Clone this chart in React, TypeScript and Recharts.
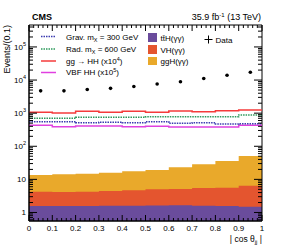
import React from "react";
import {
  ComposedChart,
  Area,
  Line,
  XAxis,
  YAxis,
  ReferenceArea,
} from "recharts";

// bin edges of |cos theta_jj| (10 bins of 0.1)
const binEdges = [0, 0.1, 0.2, 0.3, 0.4, 0.5, 0.6, 0.7, 0.8, 0.9, 1.0];

// single Higgs backgrounds (stacked)
const ttH = [1.57, 1.57, 1.57, 1.6, 1.6, 1.63, 1.65, 1.6, 1.57, 1.5];
const vh = [2.68, 2.59, 2.68, 2.86, 3.09, 3.39, 3.48, 3.9, 4.04, 4.95];
const ggh = [9.35, 10.14, 10.65, 11.44, 12.91, 14.18, 18.07, 23.1, 30.39, 44.55];

// signal hypotheses
const grav300 = [553, 553, 516, 535, 516, 553, 492, 516, 472, 482];
const rad600 = [696, 696, 747, 747, 747, 784, 784, 784, 784, 882];
const ggHH = [1057, 1014, 1134, 1057, 1134, 1057, 1166, 1110, 1190, 1249];
const vbfHH = [428, 391, 410, 410, 391, 405, 383, 383, 383, 433];

// observed data
const observed = [4720, 4720, 5165, 5610, 6370, 7565, 8890, 11100, 13970, 17200];

const yMin = 0.553;
const yMax = 4.6e5;

const xTicks = Array.from({ length: 51 }, (_, i) => i / 50);
const yTicks: number[] = [0.6, 0.7, 0.8, 0.9];
for (let e = 0; e <= 5; e++) {
  for (let m = 1; m <= 9; m++) {
    const v = m * Math.pow(10, e);
    if (v <= yMax) yTicks.push(v);
  }
}

// rows at bin edges and bin centres so the step lines and the points share one table
const rows: any[] = [];
binEdges.forEach((edge, i) => {
  const b = Math.min(i, 9);
  const hist = {
    ttH: ttH[b],
    vh: ttH[b] + vh[b],
    ggh: ttH[b] + vh[b] + ggh[b],
    grav: grav300[b],
    rad: rad600[b],
    gghh: ggHH[b],
    vbf: vbfHH[b],
  };
  rows.push({ x: edge, ...hist, data: null });
  if (i < 10) {
    rows.push({ x: (edge + binEdges[i + 1]) / 2, ...hist, data: observed[i] });
  }
});

const FONT = "'Liberation Sans', Arial, Helvetica, sans-serif";
const PLOT_TOP = 25;
const PLOT_RIGHT = 262;
const COLORS = {
  ttH: "#6a4c9c",
  vh: "#e4552f",
  ggh: "#e9a92b",
  grav: "#3b3bb0",
  rad: "#2e9a5c",
  gghh: "#f53b3b",
  vbf: "#e040e0",
};

const XTick = (props: any) => {
  const { x, y, payload } = props;
  const v = payload.value;
  const major = Math.abs(v * 10 - Math.round(v * 10)) < 1e-6;
  const len = major ? 6 : 3;
  const label = v === 0 ? "0" : v === 1 ? "1" : v.toFixed(1);
  return (
    <g>
      <line x1={x} y1={y} x2={x} y2={y - len} stroke="#000" />
      <line x1={x} y1={PLOT_TOP} x2={x} y2={PLOT_TOP + len} stroke="#000" />
      {major && (
        <text x={x} y={y + 9.5} textAnchor="middle" fontSize={8} fontFamily={FONT} fill="#000">
          {label}
        </text>
      )}
    </g>
  );
};

const YTick = (props: any) => {
  const { x, y, payload } = props;
  const v = payload.value;
  const lg = Math.log10(v);
  const major = Math.abs(lg - Math.round(lg)) < 1e-6;
  const len = major ? 8 : 4;
  const e = Math.round(lg);
  return (
    <g>
      <line x1={x} y1={y} x2={x + len} y2={y} stroke="#000" />
      <line x1={PLOT_RIGHT - len} y1={y} x2={PLOT_RIGHT} y2={y} stroke="#000" />
      {major && (
        <text
          x={e >= 2 ? x - 6 : x - 3}
          y={y + 3}
          textAnchor="end"
          fontSize={8}
          fontFamily={FONT}
          fill="#000"
        >
          {e === 0 ? "1" : "10"}
        </text>
      )}
      {major && e >= 2 && (
        <text x={x - 6} y={y - 1} fontSize={5.5} fontFamily={FONT} fill="#000">
          {e}
        </text>
      )}
    </g>
  );
};

const Overlay = () => (
  <svg
    width={291}
    height={246}
    style={{ position: "absolute", left: 0, top: 0, pointerEvents: "none" }}
    fontFamily={FONT}
  >
    <text x={32} y={20} fontSize={9} fontWeight="bold">
      CMS
    </text>
    <text x={261} y={20} fontSize={9} textAnchor="end">
      35.9 fb
      <tspan fontSize={6} dy={-3.5}>-1</tspan>
      <tspan dy={3.5}> (13 TeV)</tspan>
    </text>

    {/* signal legend */}
    <line x1={41} y1={36.5} x2={56} y2={36.5} stroke={COLORS.grav} strokeWidth={1.5} strokeDasharray="1.5 1" />
    <text x={66} y={39.5} fontSize={8}>
      Grav. m<tspan fontSize={5.5} dy={2}>X</tspan>
      <tspan dy={-2}> = 300 GeV</tspan>
    </text>
    <line x1={41} y1={49} x2={56} y2={49} stroke={COLORS.rad} strokeWidth={1.5} strokeDasharray="1.5 1" />
    <text x={66} y={52} fontSize={8}>
      Rad. m<tspan fontSize={5.5} dy={2}>X</tspan>
      <tspan dy={-2}> = 600 GeV</tspan>
    </text>
    <line x1={41} y1={61} x2={56} y2={61} stroke={COLORS.gghh} strokeWidth={1.5} />
    <text x={66} y={63.5} fontSize={8}>
      gg → HH (x10<tspan fontSize={5.5} dy={-3}>4</tspan>
      <tspan dy={3}>)</tspan>
    </text>
    <line x1={41} y1={72.5} x2={56} y2={72.5} stroke={COLORS.vbf} strokeWidth={1.5} />
    <text x={66} y={74.5} fontSize={8}>
      VBF HH (x10<tspan fontSize={5.5} dy={-3}>5</tspan>
      <tspan dy={3}>)</tspan>
    </text>

    {/* background legend */}
    <rect x={148} y={33} width={9} height={9} fill={COLORS.ttH} />
    <text x={160.5} y={40.5} fontSize={8}>
      tt̄H(γγ)
    </text>
    <rect x={148} y={45} width={9} height={9} fill={COLORS.vh} />
    <text x={160.5} y={52.5} fontSize={8}>
      VH(γγ)
    </text>
    <rect x={148} y={57} width={9} height={8} fill={COLORS.ggh} />
    <text x={160.5} y={64} fontSize={8}>
      ggH(γγ)
    </text>

    {/* data legend */}
    <line x1={204.5} y1={39.5} x2={212.5} y2={39.5} stroke="#000" />
    <line x1={208.5} y1={35.5} x2={208.5} y2={43.5} stroke="#000" />
    <text x={215.5} y={42.5} fontSize={8}>
      Data
    </text>

    {/* axis titles */}
    <text x={-25} y={10} fontSize={9} textAnchor="end" transform="rotate(-90)">
      Events/(0.1)
    </text>
    <text x={262} y={242} fontSize={8.5} textAnchor="end">
      | cos θ<tspan fontSize={6} dy={2}>jj</tspan>
      <tspan dy={-2}> |</tspan>
    </text>
  </svg>
);

const App: React.FC = () => {
  return (
    <div style={{ position: "absolute", left: 0, top: 0, width: 291, height: 246, background: "#fff" }}>
      <ComposedChart
        width={291}
        height={246}
        data={rows}
        margin={{ top: PLOT_TOP, right: 291 - PLOT_RIGHT, bottom: 0, left: 0 }}
      >
        <XAxis
          dataKey="x"
          type="number"
          domain={[0, 1]}
          ticks={xTicks}
          interval={0}
          allowDataOverflow
          tickLine={false}
          tickSize={0}
          tickMargin={0}
          height={25}
          axisLine={{ stroke: "#000" }}
          tick={<XTick />}
        />
        <YAxis
          type="number"
          scale="log"
          domain={[yMin, yMax]}
          ticks={yTicks}
          interval={0}
          allowDataOverflow
          tickLine={false}
          tickSize={0}
          tickMargin={0}
          width={29}
          axisLine={{ stroke: "#000" }}
          tick={<YTick />}
        />
        <Area
          type="stepAfter"
          dataKey="ggh"
          baseValue={yMin}
          fill={COLORS.ggh}
          fillOpacity={1}
          stroke="none"
          isAnimationActive={false}
        />
        <Area
          type="stepAfter"
          dataKey="vh"
          baseValue={yMin}
          fill={COLORS.vh}
          fillOpacity={1}
          stroke="none"
          isAnimationActive={false}
        />
        <Area
          type="stepAfter"
          dataKey="ttH"
          baseValue={yMin}
          fill={COLORS.ttH}
          fillOpacity={1}
          stroke="none"
          isAnimationActive={false}
        />
        <Line type="stepAfter" dataKey="vbf" stroke={COLORS.vbf} strokeWidth={1.5} dot={false} isAnimationActive={false} />
        <Line type="stepAfter" dataKey="grav" stroke={COLORS.grav} strokeWidth={1.5} strokeDasharray="1.5 1" dot={false} isAnimationActive={false} />
        <Line type="stepAfter" dataKey="rad" stroke={COLORS.rad} strokeWidth={1.5} strokeDasharray="1.5 1" dot={false} isAnimationActive={false} />
        <Line type="stepAfter" dataKey="gghh" stroke={COLORS.gghh} strokeWidth={1.5} dot={false} isAnimationActive={false} />
        <Line
          dataKey="data"
          stroke="none"
          dot={{ r: 1.8, fill: "#000", stroke: "none" }}
          activeDot={false}
          isAnimationActive={false}
        />
        <ReferenceArea x1={0} x2={1} y1={yMin} y2={yMax} fill="none" stroke="#000" ifOverflow="visible" />
      </ComposedChart>
      <Overlay />
    </div>
  );
};

export default App;
